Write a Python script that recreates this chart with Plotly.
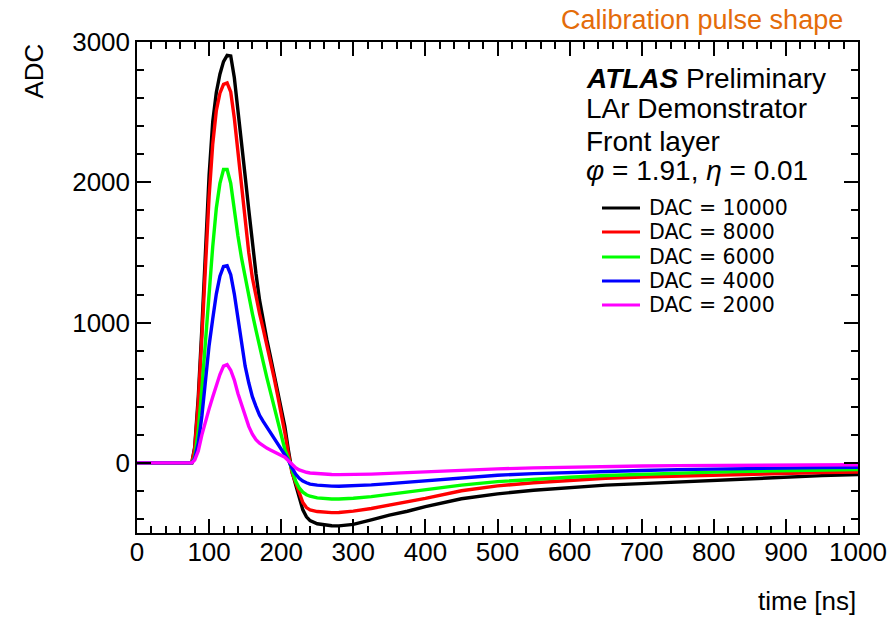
import plotly.graph_objects as go

# ---------------- data ----------------
time_ns = [0, 76, 80, 85, 90, 95, 100, 105, 110, 115,
           120, 125, 130, 135, 140, 145, 150, 155, 160, 165,
           170, 175, 180, 185, 190, 195, 200, 205, 210, 215,
           220, 225, 230, 235, 240, 250, 260, 270, 280, 290,
           300, 325, 350, 375, 400, 450, 500, 550, 600, 650,
           700, 750, 800, 850, 900, 950, 1000]

adc_dac10000 = [0, 0, 110, 470, 960, 1520, 2050, 2430, 2640, 2770,
                2860, 2905, 2900, 2745, 2525, 2300, 2045, 1805, 1560, 1350,
                1160, 1010, 880, 760, 640, 520, 395, 260, 90, -60,
                -155, -250, -335, -385, -412, -434, -444, -448, -449, -446,
                -439, -406, -372, -345, -312, -256, -221, -195, -174, -159,
                -148, -136, -123, -110, -100, -91, -83]

adc_dac8000 = [0, 0, 100, 430, 900, 1410, 1900, 2270, 2510, 2635,
               2698, 2708, 2644, 2456, 2209, 1973, 1736, 1500, 1320, 1183,
               1064, 956, 847, 729, 610, 482, 354, 216, 65, -70,
               -140, -219, -283, -319, -335, -347, -353, -355, -354, -350,
               -344, -325, -301, -280, -253, -199, -164, -142, -123, -110,
               -101, -94, -86, -79, -74, -69, -65]

adc_dac6000 = [0, 0, 40, 230, 530, 880, 1230, 1540, 1815, 1992,
               2091, 2091, 1992, 1795, 1617, 1459, 1321, 1183, 1064, 946,
               818, 719, 610, 512, 413, 295, 206, 97, 28, -61,
               -130, -179, -209, -227, -238, -250, -255, -258, -258, -256,
               -252, -241, -224, -209, -191, -159, -134, -117, -103, -90,
               -80, -73, -66, -60, -55, -51, -47]

adc_dac4000 = [0, 0, 30, 140, 334, 591, 837, 1025, 1203, 1331,
               1400, 1405, 1341, 1203, 1025, 847, 689, 571, 472, 403,
               339, 295, 255, 221, 176, 137, 102, 63, 18, -36,
               -80, -110, -130, -142, -152, -159, -164, -166, -167, -166,
               -164, -157, -148, -138, -130, -108, -88, -77, -68, -60,
               -54, -48, -43, -39, -36, -33, -31]

adc_dac2000 = [0, 0, 20, 85, 200, 300, 385, 470, 555, 630,
               690, 700, 660, 590, 495, 410, 330, 260, 205, 165,
               140, 120, 105, 92, 80, 68, 55, 40, 15, -12,
               -35, -50, -60, -67, -72, -77, -81, -83, -84, -84,
               -83, -80, -75, -69, -63, -52, -43, -36, -30, -25,
               -22, -20, -18, -17, -16, -15, -14]

series_names = ["DAC = 10000", "DAC = 8000", "DAC = 6000", "DAC = 4000", "DAC = 2000"]
series_values = [adc_dac10000, adc_dac8000, adc_dac6000, adc_dac4000, adc_dac2000]
series_colors = ["#000000", "#ff0000", "#00ff00", "#0000ff", "#ff00ff"]

x_tick_values = [0, 100, 200, 300, 400, 500, 600, 700, 800, 900, 1000]
y_tick_values = [0, 1000, 2000, 3000]

header_lines = ["<b><i>ATLAS</i></b> Preliminary",
                "LAr Demonstrator",
                "Front layer",
                "<i>φ</i> = 1.91, <i>η</i> = 0.01"]

# ---------------- figure ----------------
W, H = 893, 618
L, R, T, B = 137, 35, 42, 85
PW, PH = W - L - R, H - T - B


def px_x(p):
    return (p - L) / PW


def px_y(p):
    return (H - B - p) / PH


FONT = "Liberation Sans, Arial, Helvetica, sans-serif"
LEGFONT = "DejaVu Sans, Liberation Sans, Arial, sans-serif"

fig = go.Figure()
for name, vals, col in zip(series_names, series_values, series_colors):
    fig.add_trace(go.Scatter(x=time_ns, y=vals, mode="lines", name=name,
                             line=dict(color=col, width=3.4),
                             showlegend=False))

axis_common = dict(
    ticks="inside", ticklen=14, tickwidth=1.5, tickcolor="black",
    showline=True, linecolor="black", linewidth=1.5, mirror="ticks",
    showgrid=False, zeroline=False, automargin=False,
    tickfont=dict(family=FONT, size=26, color="black"),
)

fig.update_xaxes(range=[0, 1000], tickmode="array", tickvals=x_tick_values,
                 minor=dict(dtick=20, tick0=0, ticklen=7, tickwidth=1.5,
                            tickcolor="black", ticks="inside"),
                 ticklabelstandoff=-5,
                 **axis_common)
fig.update_yaxes(range=[-500, 3000], tickmode="array", tickvals=y_tick_values,
                 minor=dict(dtick=200, tick0=0, ticklen=7, tickwidth=1.5,
                            tickcolor="black", ticks="inside"),
                 **axis_common)

annotations = []
# axis titles
annotations.append(dict(text="ADC", xref="paper", yref="paper",
                         x=px_x(33), y=1.0, xanchor="center", yanchor="top",
                         textangle=-90, showarrow=False,
                         font=dict(family=FONT, size=26, color="black")))
annotations.append(dict(text="time [ns]", xref="paper", yref="paper",
                         x=1.0, y=px_y(601), xanchor="right", yanchor="middle",
                         showarrow=False,
                         font=dict(family=FONT, size=26, color="black")))
# orange title
annotations.append(dict(text="Calibration pulse shape", xref="paper", yref="paper",
                         x=px_x(845), y=px_y(20), xanchor="right", yanchor="middle",
                         showarrow=False,
                         font=dict(family=FONT, size=27, color="#e46c0a")))
# header text
for line, yc in zip(header_lines, [79, 109, 141, 171]):
    annotations.append(dict(text=line, xref="paper", yref="paper",
                             x=px_x(584), y=px_y(yc), xanchor="left", yanchor="middle",
                             showarrow=False,
                             font=dict(family=FONT, size=28, color="black")))

# manual legend
shapes = []
for name, col, yc in zip(series_names, series_colors, [208, 232, 257, 281, 305]):
    shapes.append(dict(type="line", xref="paper", yref="paper",
                       x0=px_x(602), x1=px_x(640), y0=px_y(yc), y1=px_y(yc),
                       line=dict(color=col, width=3)))
    annotations.append(dict(text=name, xref="paper", yref="paper",
                             x=px_x(647), y=px_y(yc), xanchor="left", yanchor="middle",
                             showarrow=False,
                             font=dict(family=LEGFONT, size=20.5, color="black")))

fig.update_layout(width=W, height=H,
                  margin=dict(l=L, r=R, t=T, b=B, autoexpand=False),
                  paper_bgcolor="white", plot_bgcolor="white",
                  font=dict(family=FONT, color="black"),
                  annotations=annotations, shapes=shapes,
                  showlegend=False)

fig.write_html("out.html")
